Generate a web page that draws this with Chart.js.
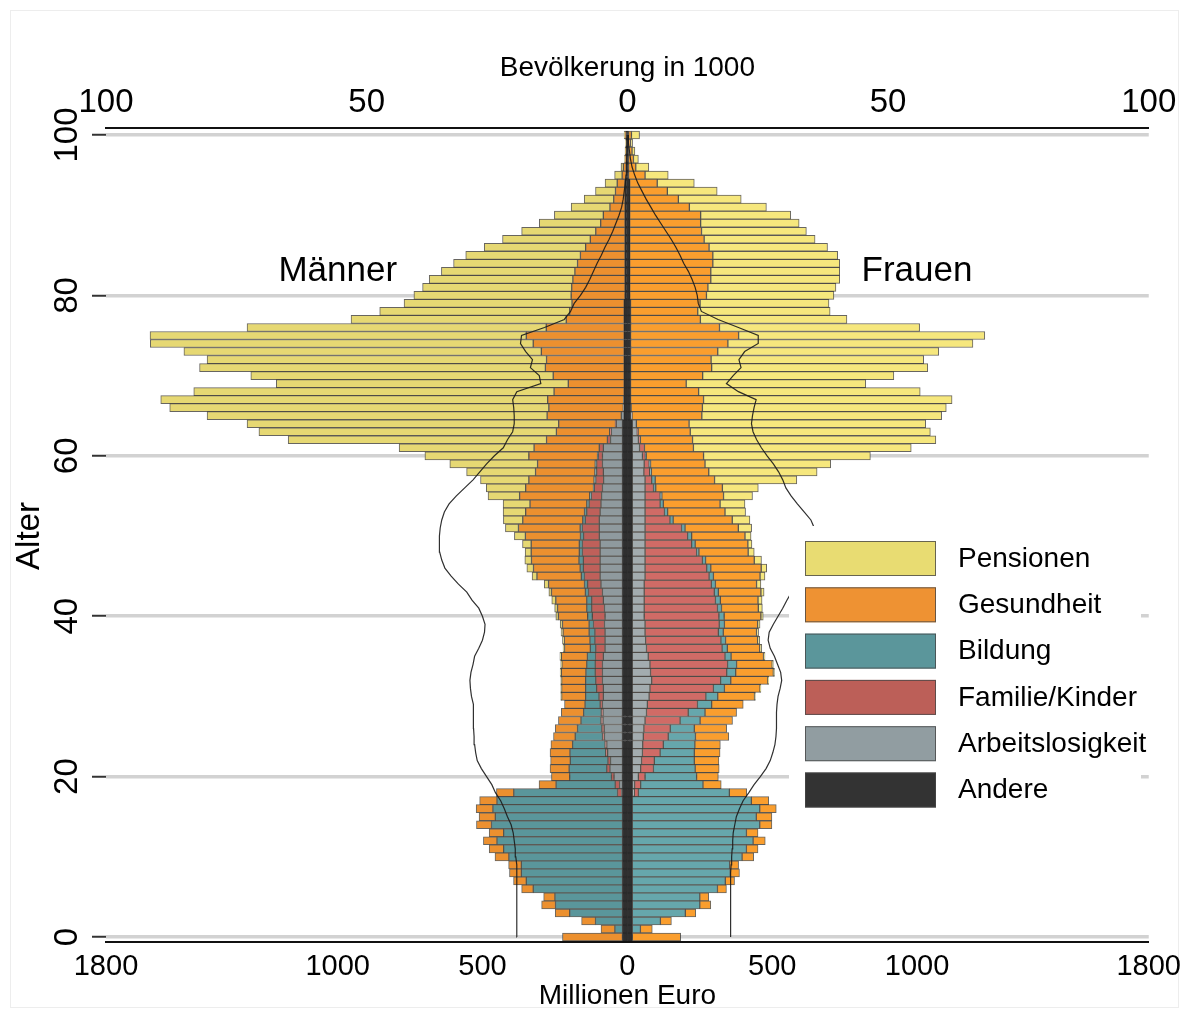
<!DOCTYPE html>
<html>
<head>
<meta charset="utf-8">
<script src="https://cdn.jsdelivr.net/npm/chart.js@4.4.1/dist/chart.umd.min.js"></script>
<style>
  html, body { margin: 0; padding: 0; background: #fff; }
  #wrap { position: relative; width: 1189px; height: 1016px; }
  canvas { display: block; }
</style>
</head>
<body>
<div id="wrap"><canvas id="pyramid"></canvas></div>
<script>
const FONT = "'Liberation Sans', Arial, Helvetica, sans-serif";

// Age groups 0 ... 100 (100 = 100+)
const ages = Array.from({ length: 101 }, (_, i) => i);

// Axis tick values
const tickEuro = [-1800, -1000, -500, 0, 500, 1000, 1800];
const tickPop = [-100, -50, 0, 50, 100];
const tickAge = [0, 20, 40, 60, 80, 100];

// Spending per age year, Millionen Euro — Männer
const mAndere = [
  17,17,17,17,17,17,17,17,17,17, 17,17,17,17,17,17,17,17,17,17,
  17,17,17,17,17,17,17,17,17,17, 17,17,17,17,17,17,17,17,17,17,
  17,17,17,17,17,17,17,17,17,17, 17,17,17,17,17,17,17,17,17,17,
  17,17,17,17,17,11,11,11,11,11, 11,11,11,11,11,11,11,11,11,11,
  8,8,8,8,8,8,8,8,8,8, 8,8,8,8,8,4,4,4,4,4, 4];
const mArbeit = [
  0,0,0,0,0,0,0,0,0,0, 0,0,0,0,0,0,0,0,3,10,
  29,43,41,51,54,62,63,67,67,69, 66,66,69,69,69,66,60,60,60,62,
  60,62,66,69,74,77,77,77,77,77, 80,80,80,77,74,72,69,65,66,69,
  69,66,41,38,21,10,3,2,0,0, 0,0,0,0,0,0,0,0,0,0,
  0,0,0,0,0,0,0,0,0,0, 0,0,0,0,0,0,0,0,0,0, 0];
const mFamilie = [
  0,0,0,0,0,0,0,0,0,0, 0,0,0,0,0,0,0,0,14,15,
  9,11,9,7,6,7,8,7,6,8, 15,23,23,25,25,27,32,35,35,38,
  44,44,40,48,46,54,58,58,61,61, 54,58,48,46,41,35,28,27,23,20,
  14,14,11,6,3,0,0,0,0,0, 0,0,0,0,0,0,0,0,0,0,
  0,0,0,0,0,0,0,0,0,0, 0,0,0,0,0,0,0,0,0,0, 0];
const mBildung = [
  0,26,93,182,231,233,308,332,349,349, 392,410,433,410,452,439,447,433,358,204,
  144,130,130,123,112,94,84,69,61,52, 46,38,35,32,29,28,19,17,20,15,
  16,17,17,11,11,11,11,15,11,11, 11,8,9,8,8,6,3,6,6,5,
  3,0,0,0,0,0,0,0,0,0, 0,0,0,0,0,0,0,0,0,0,
  0,0,0,0,0,0,0,0,0,0, 0,0,0,0,0,0,0,0,0,0, 0];
const mGesund = [
  207,48,48,50,48,39,40,44,41,44, 48,50,47,50,52,56,58,60,60,59,
  63,66,68,69,75,75,77,78,77,71, 83,83,83,85,86,90,89,89,90,92,
  101,101,107,117,124,153,161,164,166,166, 190,213,207,203,196,242,234,225,205,199,
  237,225,210,184,196,256,257,262,242,193, 245,272,268,286,314,338,269,200,188,180,
  186,184,180,173,164,154,136,120,101,84, 75,52,39,33,27,14,10,3,2,1, 3];
const mPension = [
  0,0,0,0,0,0,0,0,0,0, 0,0,0,0,0,0,0,0,0,0,
  0,0,0,0,0,0,0,0,0,0, 3,3,3,4,4,5,5,6,7,8,
  9,10,14,9,15,17,23,23,21,30, 38,45,67,78,93,109,136,167,238,303,
  359,466,892,1027,1076,1174,1309,1336,1244,1008, 1044,1194,1172,1234,1322,1299,1033,743,656,580,
  543,515,496,461,428,396,350,303,256,212, 169,134,102,69,42,26,8,3,2,1, 4];

// Spending per age year, Millionen Euro — Frauen
const fAndere = [
  17,17,17,17,17,17,17,17,17,17, 17,17,17,17,17,17,17,17,17,17,
  17,17,17,17,17,17,17,17,17,17, 17,17,17,17,17,17,17,17,17,17,
  17,17,17,17,17,17,17,17,17,17, 17,17,17,17,17,17,17,17,17,17,
  17,17,17,17,17,11,11,11,11,11, 11,11,11,11,11,11,11,11,11,11,
  8,8,8,8,8,8,8,8,8,8, 8,8,8,8,8,4,4,4,4,4, 4];
const fArbeit = [
  0,0,0,0,0,0,0,0,0,0, 0,0,0,0,0,0,0,0,7,8,
  21,29,32,35,36,38,40,44,49,52, 58,61,67,63,61,55,49,46,44,44,
  41,41,41,41,41,44,44,44,44,44, 44,44,44,44,44,44,44,44,40,41,
  35,25,21,17,14,5,2,0,0,0, 0,0,0,0,0,0,0,0,0,0,
  0,0,0,0,0,0,0,0,0,0, 0,0,0,0,0,0,0,0,0,0, 0];
const fFamilie = [
  0,0,0,0,0,0,0,0,0,0, 0,0,0,0,0,0,0,0,14,21,
  23,44,44,61,71,86,91,121,144,173, 196,219,238,263,268,265,261,260,253,256,
  258,253,246,242,232,221,213,198,178,161, 147,126,86,67,52,52,29,23,20,17,
  10,17,7,3,0,0,0,0,0,0, 0,0,0,0,0,0,0,0,0,0,
  0,0,0,0,0,0,0,0,0,0, 0,0,0,0,0,0,0,0,0,0, 0];
const fBildung = [
  0,28,97,183,233,233,294,321,338,336, 379,394,417,394,440,428,440,411,314,215,
  178,144,138,118,109,94,83,69,58,49, 41,38,35,31,31,21,18,16,17,18,
  18,14,17,14,14,15,14,11,8,12, 14,12,11,11,11,6,8,12,6,5,
  3,0,0,0,0,0,0,0,0,0, 0,0,0,0,0,0,0,0,0,0,
  0,0,0,0,0,0,0,0,0,0, 0,0,0,0,0,0,0,0,0,0, 0];
const fGesund = [
  167,41,38,36,38,31,31,32,32,31, 40,40,42,40,42,54,57,60,60,63,
  75,83,85,89,88,115,112,112,109,109, 127,123,128,130,123,112,112,111,115,115,
  127,127,130,147,142,161,174,168,170,182, 184,184,204,198,196,213,230,205,198,188,
  198,169,180,180,182,241,246,252,235,192, 249,280,278,301,336,373,307,241,232,240,
  265,270,280,280,287,287,274,257,248,245, 245,206,168,130,95,57,25,17,12,7, 10];
const fPension = [
  0,0,0,0,0,0,0,0,0,0, 0,0,0,0,0,0,0,0,0,0,
  0,0,0,0,0,0,0,0,0,0, 3,3,3,4,4,5,7,7,7,8,
  8,14,14,11,15,17,19,25,21,14, 21,46,61,71,86,100,124,284,374,434,
  576,752,840,829,817,828,842,858,765,620, 660,746,734,763,846,850,691,506,457,445,
  440,442,445,445,438,431,409,383,362,340, 311,266,217,172,128,80,45,17,10,7, 28];

// Bevölkerung in 1000
const mPop = [
  21.2,21.2,21.2,21.2,21.2,21.2,21.2,21.2,21.2,21.3, 21.4,21.5,21.7,21.9,22.3,23.0,23.6,24.3,25.3,26.0,
  27.0,28.0,28.8,29.1,29.3,29.4,29.5,29.5,29.5,29.6, 29.9,30.1,30.2,30.0,29.6,29.3,28.5,27.8,27.4,27.3,
  27.8,28.5,29.8,30.8,32.4,33.8,35.0,35.6,36.0,36.1, 36.0,35.9,35.6,35.1,34.2,32.8,31.2,29.6,28.3,27.0,
  25.5,23.8,23.0,22.0,21.7,21.7,21.8,22.0,21.2,16.6, 16.9,18.6,18.2,19.5,20.5,20.3,15.9,12.1,10.9,10.2,
  9.0,8.0,7.2,6.5,5.8,5.0,4.3,3.5,2.8,2.2, 1.6,1.1,0.8,0.6,0.4,0.25,0.15,0.1,0.05,0.03, 0.05];
const fPop = [
  19.8,19.8,19.8,19.8,19.8,19.8,19.8,19.8,19.8,19.9, 20.0,20.1,20.2,20.3,20.6,20.9,21.5,22.2,23.3,24.3,
  25.5,26.6,27.4,27.9,28.3,28.5,28.6,28.6,28.6,28.7, 28.9,29.3,29.6,29.4,28.8,28.2,27.4,27.0,27.2,28.0,
  28.9,29.8,30.6,31.5,32.5,33.5,34.3,35.0,35.5,35.8, 35.9,35.8,35.2,33.9,32.6,31.4,30.4,29.8,29.0,28.0,
  26.8,25.7,24.8,24.1,23.8,24.0,24.3,24.7,21.3,19.0, 20.3,21.8,21.4,22.5,25.1,25.1,21.3,17.4,14.2,13.6,
  13.4,13.0,12.4,11.7,10.8,10.1,9.3,8.4,7.4,6.4, 5.4,4.5,3.6,2.8,2.0,1.4,0.9,0.6,0.4,0.2, 0.2];

// Components, stacked from the centre outwards
const seriesNames = ['Andere', 'Arbeitslosigkeit', 'Familie/Kinder', 'Bildung', 'Gesundheit', 'Pensionen'];
const maleSeries = [mAndere, mArbeit, mFamilie, mBildung, mGesund, mPension];
const femaleSeries = [fAndere, fArbeit, fFamilie, fBildung, fGesund, fPension];
const maleColors = ['#2f2f2f', '#8f9a9e', '#bf605a', '#5a969b', '#ec902f', '#e6d873'];
const femaleColors = ['#2f2f2f', '#a3acaf', '#d06b66', '#66a7ac', '#fa9e2e', '#f6e77d'];
const legendColors = ['#333333', '#919da1', '#bc5f58', '#5b969b', '#ee9233', '#e8dc72'];
const barEdge = 'rgba(45,42,35,0.72)';
const edgeFor = k => (k === 0 ? '#2a2a2a' : barEdge);

const datasets = [];
seriesNames.forEach((name, k) => {
  datasets.push({
    type: 'bar', label: name + ' (Männer)', stack: 'alle', order: 1,
    xAxisID: 'x', yAxisID: 'y',
    data: ages.map((a, i) => ({ x: maleSeries[k][i] ? -maleSeries[k][i] : null, y: a })),
    backgroundColor: maleColors[k], borderColor: edgeFor(k), borderWidth: 1, borderSkipped: false,
    barPercentage: 1, categoryPercentage: 1
  });
  datasets.push({
    type: 'bar', label: name + ' (Frauen)', stack: 'alle', order: 1,
    xAxisID: 'x', yAxisID: 'y',
    data: ages.map((a, i) => ({ x: femaleSeries[k][i] ? femaleSeries[k][i] : null, y: a })),
    backgroundColor: femaleColors[k], borderColor: edgeFor(k), borderWidth: 1, borderSkipped: false,
    barPercentage: 1, categoryPercentage: 1
  });
});
// Population outlines (top axis)
datasets.push({
  type: 'line', label: 'Bevölkerung Männer', indexAxis: 'y', order: 0,
  xAxisID: 'x2', yAxisID: 'y',
  data: ages.map((a, i) => ({ x: -mPop[i], y: a })),
  borderColor: 'rgba(25,25,25,0.9)', borderWidth: 1.2, pointRadius: 0, tension: 0, fill: false
});
datasets.push({
  type: 'line', label: 'Bevölkerung Frauen', indexAxis: 'y', order: 0,
  xAxisID: 'x2', yAxisID: 'y',
  data: ages.map((a, i) => ({ x: fPop[i], y: a })),
  borderColor: 'rgba(25,25,25,0.9)', borderWidth: 1.2, pointRadius: 0, tension: 0, fill: false
});

// Extra drawing: background, rotated age labels, sex labels and the legend box
const decorations = {
  id: 'decorations',
  beforeDraw(chart) {
    const { ctx, width, height } = chart;
    ctx.save();
    ctx.fillStyle = '#ffffff';
    ctx.fillRect(0, 0, width, height);
    ctx.strokeStyle = '#ededed';
    ctx.lineWidth = 1;
    ctx.strokeRect(10.5, 10.5, width - 21, height - 19);
    ctx.restore();
  },
  afterDraw(chart) {
    const { ctx, scales } = chart;
    const x = scales.x, y = scales.y;
    ctx.save();
    ctx.fillStyle = '#000';
    ctx.textAlign = 'center';
    ctx.textBaseline = 'middle';

    // Age tick labels, rotated
    ctx.font = `33px ${FONT}`;
    tickAge.forEach(v => {
      ctx.save();
      ctx.translate(68, y.getPixelForValue(v));
      ctx.rotate(-Math.PI / 2);
      ctx.fillText(String(v), 0, 0);
      ctx.restore();
    });
    // Age axis title
    ctx.font = `33px ${FONT}`;
    ctx.save();
    ctx.translate(30, y.getPixelForValue(50));
    ctx.rotate(-Math.PI / 2);
    ctx.fillText('Alter', 0, 0);
    ctx.restore();

    // Sex labels
    ctx.font = `35px ${FONT}`;
    ctx.fillText('Männer', x.getPixelForValue(-1000), y.getPixelForValue(83));
    ctx.fillText('Frauen', x.getPixelForValue(1000), y.getPixelForValue(83));

    // Legend
    const lx = 789, ly = 526, lw = 352, lh = 292;
    ctx.fillStyle = '#ffffff';
    ctx.fillRect(lx, ly, lw, lh);
    const order = [5, 4, 3, 2, 1, 0];
    ctx.font = `28px ${FONT}`;
    ctx.textAlign = 'left';
    order.forEach((k, row) => {
      const by = 541 + row * 46.3;
      ctx.fillStyle = legendColors[k];
      ctx.fillRect(805, by, 131, 35);
      ctx.strokeStyle = 'rgba(70,70,70,0.8)';
      ctx.lineWidth = 1;
      ctx.strokeRect(805.5, by + 0.5, 130, 34);
      ctx.fillStyle = '#000';
      ctx.fillText(seriesNames[k], 958, by + 18);
    });
    ctx.restore();
  }
};

new Chart(document.getElementById('pyramid'), {
  type: 'bar',
  data: { datasets },
  options: {
    indexAxis: 'y',
    responsive: true,
    maintainAspectRatio: false,
    animation: false,
    layout: { padding: { left: 0, right: 36, top: 0, bottom: 0 } },
    plugins: { legend: { display: false }, tooltip: { enabled: false } },
    scales: {
      x: {
        type: 'linear', position: 'bottom', min: -1800, max: 1800, stacked: true,
        afterBuildTicks: s => { s.ticks = tickEuro.map(v => ({ value: v })); },
        afterFit: s => { s.height = 74; },
        grid: { display: false, drawTicks: false },
        border: { display: true, color: '#111', width: 2 },
        ticks: {
          font: { family: FONT, size: 29 }, color: '#000', padding: 8,
          maxRotation: 0, autoSkip: false, callback: v => Math.abs(v)
        },
        title: {
          display: true, text: 'Millionen Euro', color: '#000',
          font: { family: FONT, size: 28 }, padding: { top: 0, bottom: 3 }
        }
      },
      x2: {
        type: 'linear', position: 'top', min: -100, max: 100,
        afterBuildTicks: s => { s.ticks = tickPop.map(v => ({ value: v })); },
        afterFit: s => { s.height = 128; },
        grid: { display: false, drawTicks: false },
        border: { display: true, color: '#111', width: 2 },
        ticks: {
          font: { family: FONT, size: 33 }, color: '#000', padding: 5,
          maxRotation: 0, autoSkip: false, callback: v => Math.abs(v)
        },
        title: {
          display: true, text: 'Bevölkerung in 1000', color: '#000',
          font: { family: FONT, size: 28 }, padding: { top: 51, bottom: 0 }
        }
      },
      y: {
        type: 'linear', position: 'left', min: -0.62, max: 100.87, offset: false,
        afterBuildTicks: s => { s.ticks = tickAge.map(v => ({ value: v })); },
        afterFit: s => { s.width = 106; },
        grid: { offset: false, color: '#d2d2d2', lineWidth: 3.5, drawTicks: true, tickLength: 14, tickColor: '#333', tickWidth: 2 },
        border: { display: false },
        ticks: { display: false }
      }
    }
  },
  plugins: [decorations]
});
</script>
</body>
</html>
